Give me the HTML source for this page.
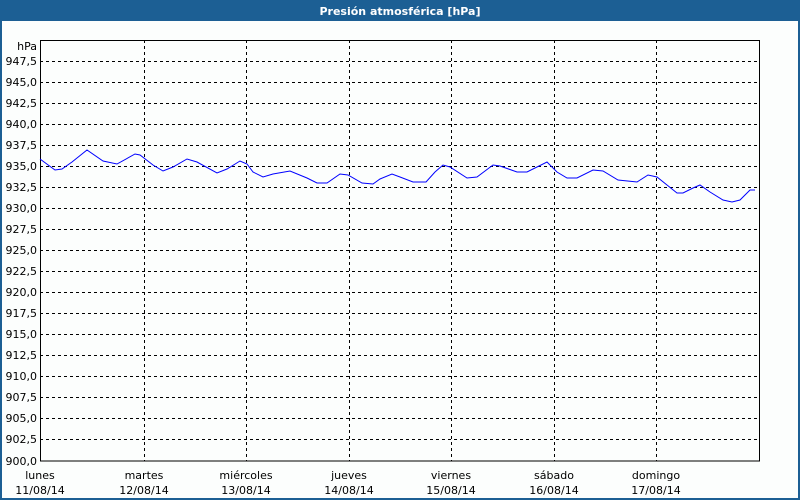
<!DOCTYPE html>
<html><head><meta charset="utf-8"><style>
html,body{margin:0;padding:0;background:#fff}
body{width:800px;height:500px;position:relative;overflow:hidden;font-family:"DejaVu Sans","Liberation Sans",sans-serif}
</style></head><body>
<svg width="800" height="500" xmlns="http://www.w3.org/2000/svg" style="position:absolute;left:0;top:0">
<rect x="0" y="0" width="800" height="500" fill="#1c5f94"/>
<rect x="2" y="21" width="796" height="477" fill="#fcfefd"/>
<text x="400" y="15" text-anchor="middle" font-family="DejaVu Sans, Liberation Sans, sans-serif" font-size="11" font-weight="bold" fill="#fff">Presión atmosférica [hPa]</text>
<g stroke="#000" stroke-dasharray="3,3" stroke-width="1">
<line x1="40" x2="760" y1="61.5" y2="61.5"/><line x1="40" x2="760" y1="82.5" y2="82.5"/>
<line x1="40" x2="760" y1="103.5" y2="103.5"/><line x1="40" x2="760" y1="124.5" y2="124.5"/>
<line x1="40" x2="760" y1="145.5" y2="145.5"/><line x1="40" x2="760" y1="166.5" y2="166.5"/>
<line x1="40" x2="760" y1="187.5" y2="187.5"/><line x1="40" x2="760" y1="208.5" y2="208.5"/>
<line x1="40" x2="760" y1="229.5" y2="229.5"/><line x1="40" x2="760" y1="250.5" y2="250.5"/>
<line x1="40" x2="760" y1="271.5" y2="271.5"/><line x1="40" x2="760" y1="292.5" y2="292.5"/>
<line x1="40" x2="760" y1="313.5" y2="313.5"/><line x1="40" x2="760" y1="334.5" y2="334.5"/>
<line x1="40" x2="760" y1="355.5" y2="355.5"/><line x1="40" x2="760" y1="376.5" y2="376.5"/>
<line x1="40" x2="760" y1="397.5" y2="397.5"/><line x1="40" x2="760" y1="418.5" y2="418.5"/>
<line x1="40" x2="760" y1="439.5" y2="439.5"/>
<line x1="144.5" x2="144.5" y1="40" y2="461"/><line x1="246.5" x2="246.5" y1="40" y2="461"/>
<line x1="349.5" x2="349.5" y1="40" y2="461"/><line x1="451.5" x2="451.5" y1="40" y2="461"/>
<line x1="554.5" x2="554.5" y1="40" y2="461"/><line x1="656.5" x2="656.5" y1="40" y2="461"/>
</g>
<rect x="40.5" y="40.5" width="719" height="420.5" fill="none" stroke="#000" stroke-width="1"/>
<polyline fill="none" stroke="#0000ff" stroke-width="1" points="40,159 55,170 62,169 72,162 87,150 103,161 117,164 135,154 140,155 153,165 163,171 173,167 187,159 197,162 217,173 227,169 240,161 247,164 253,172 263,177 273,174 290,171 307,178 317,183 327,183 340,174 348,175 362,183 373,184 380,179 392,174 400,177 413,182 426,182 435,172 443,165 450,167 467,178 477,177 493,165 500,166 517,172 527,172 547,162 557,172 567,178 577,178 593,170 603,171 618,180 637,182 648,175 657,177 667,185 677,193 683,193 693,188 700,185 710,192 723,200 732,202 740,200 750,190 755,190"/>
<g font-family="DejaVu Sans, Liberation Sans, sans-serif" font-size="11" fill="#000" text-anchor="end">
<text x="37" y="50">hPa</text>
<text x="37" y="65">947,5</text><text x="37" y="86">945,0</text><text x="37" y="107">942,5</text>
<text x="37" y="128">940,0</text><text x="37" y="149">937,5</text><text x="37" y="170">935,0</text>
<text x="37" y="191">932,5</text><text x="37" y="212">930,0</text><text x="37" y="233">927,5</text>
<text x="37" y="254">925,0</text><text x="37" y="275">922,5</text><text x="37" y="296">920,0</text>
<text x="37" y="317">917,5</text><text x="37" y="338">915,0</text><text x="37" y="359">912,5</text>
<text x="37" y="380">910,0</text><text x="37" y="401">907,5</text><text x="37" y="422">905,0</text>
<text x="37" y="443">902,5</text><text x="37" y="465">900,0</text>
</g>
<g font-family="DejaVu Sans, Liberation Sans, sans-serif" font-size="11" fill="#000" text-anchor="middle">
<text x="40" y="479">lunes</text><text x="40" y="494">11/08/14</text>
<text x="144" y="479">martes</text><text x="144" y="494">12/08/14</text>
<text x="246" y="479">miércoles</text><text x="246" y="494">13/08/14</text>
<text x="349" y="479">jueves</text><text x="349" y="494">14/08/14</text>
<text x="451" y="479">viernes</text><text x="451" y="494">15/08/14</text>
<text x="554" y="479">sábado</text><text x="554" y="494">16/08/14</text>
<text x="656" y="479">domingo</text><text x="656" y="494">17/08/14</text>
</g>
</svg>
</body></html>
